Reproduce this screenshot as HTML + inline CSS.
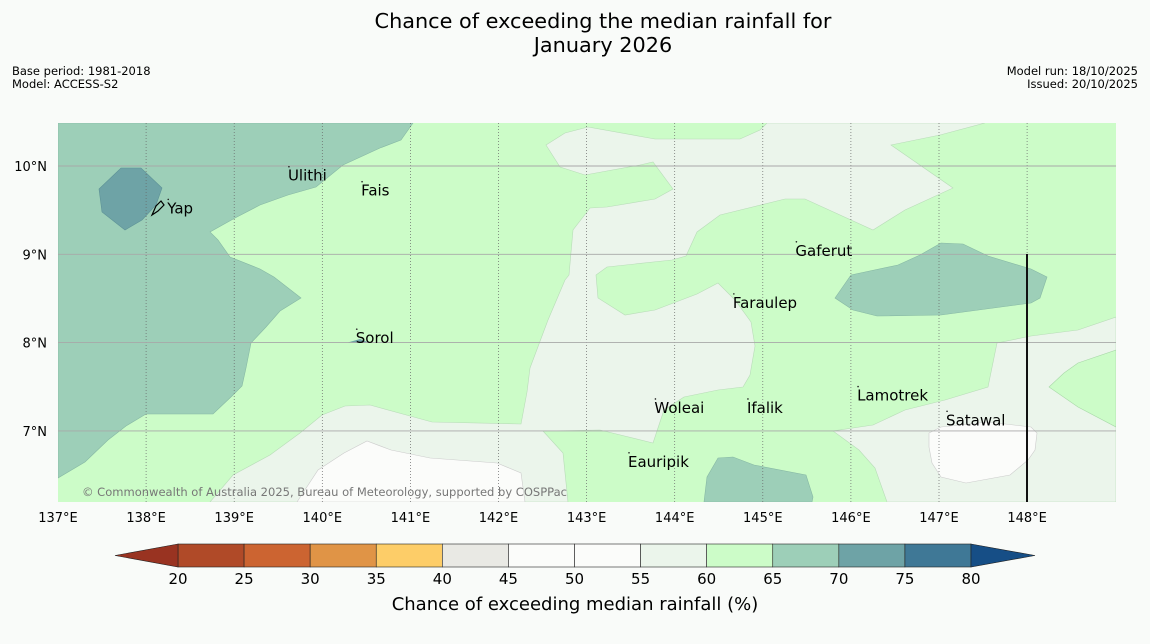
<!DOCTYPE html>
<html><head><meta charset="utf-8"><style>
html,body{margin:0;padding:0;background:#f9fbf9;}
svg{display:block;font-family:"DejaVu Sans","Liberation Sans",sans-serif;}
</style></head><body>
<svg id="c" width="1150" height="644" viewBox="0 0 1150 644" xmlns="http://www.w3.org/2000/svg">
<rect width="1150" height="644" fill="#f9fbf9"/>
<text x="603" y="28" font-size="20.8" text-anchor="middle" fill="#000">Chance of exceeding the median rainfall for</text>
<text x="603" y="52" font-size="20.8" text-anchor="middle" fill="#000">January 2026</text>
<text x="12" y="75" font-size="11.5">Base period: 1981-2018</text>
<text x="12" y="88" font-size="11.5">Model: ACCESS-S2</text>
<text x="1138" y="75" font-size="11.5" text-anchor="end">Model run: 18/10/2025</text>
<text x="1138" y="88" font-size="11.5" text-anchor="end">Issued: 20/10/2025</text>
<defs><clipPath id="mapclip"><rect x="58" y="123" width="1058" height="379"/></clipPath></defs>
<g id="map" clip-path="url(#mapclip)">
<rect x="58" y="123" width="1058" height="379" fill="#ccfcc8" stroke="none"/>
<polygon fill="#ebf5eb" stroke="#b8dcb8" stroke-width="0.6" points="546,145 565,133 588,127 655,139 740,139 760,130 767,123 985,123 940,135 891,145 953,188 905,210 873,230 805,199 785,199 720,215 697,232 686,256 672,260 607,267 596,275 598,298 625,315 655,310 697,294 718,283 735,300 751,322 755,346 750,375 743,387 718,390 684,397 664,410 653,443 600,430 543,431 563,453 568,502 210,502 233,475 270,455 300,433 322,415 345,406 370,405 432,422 521,424 527,392 530,368 548,320 565,280 569,275 573,230 590,208 607,207 655,199 673,189 653,162 640,165 585,175 560,167"/>
<polygon fill="#fbfcfa" stroke="#ccc" stroke-width="0.6" points="297,502 318,470 344,453 367,441 391,450 430,458 497,463 521,473 525,502"/>
<polygon fill="#ebf5eb" stroke="#b8dcb8" stroke-width="0.6" points="1116,317 1078,330 1031,336 997,343 988,387 945,400 905,410 873,425 833,431 859,450 875,468 887,502 1116,502"/>
<polygon fill="#ccfcc8" stroke="#a8d8a8" stroke-width="0.6" points="1116,350 1078,363 1064,373 1049,387 1078,407 1116,427"/>
<polygon fill="#fbfcfa" stroke="#ccc" stroke-width="0.6" points="929,433 941,427 988,422 1031,427 1037,433 1035,450 1028,460 1010,475 966,483 941,477 932,463 929,447"/>
<polygon fill="#9dcfb8" stroke="#86b8a4" stroke-width="0.6" points="58,123 413,123 401,140 380,148 343,165 316,187 288,195 260,205 235,218 210,232 218,240 230,257 260,269 274,277 301,298 280,311 266,327 251,343 246,368 242,386 232,396 213,414 146,414 126,426 108,440 85,462 58,478"/>
<polygon fill="#6ea3a6" stroke="#5d9296" stroke-width="0.6" points="121,168 141,168 162,188 156,205 142,220 125,230 102,212 99,189"/>
<polygon fill="#9dcfb8" stroke="#86b8a4" stroke-width="0.6" points="835,298 851,275 898,265 920,255 941,243 963,244 988,256 1031,269 1047,277 1040,298 1031,303 941,315 877,316 853,310"/>
<polygon fill="#9dcfb8" stroke="#86b8a4" stroke-width="0.6" points="704,502 707,477 718,458 733,457 754,465 806,475 813,497 812,502"/>
<polygon fill="#6ea3a6" points="346,343 360,339 370,343"/>
<g id="grid"></g>
<line x1="1027" y1="254" x2="1027" y2="502" stroke="#111" stroke-width="2"/>
<path d="M152,215 L156,206 L161,201 L164,205 L158,211 Z" fill="none" stroke="#000" stroke-width="1.2"/>
<g id="places"></g>
<text x="82" y="496" font-size="11.5" fill="#777" textLength="485" lengthAdjust="spacingAndGlyphs">© Commonwealth of Australia 2025, Bureau of Meteorology, supported by COSPPac</text>
</g>
<g id="axes"></g>
<g id="cbar"></g>
<text x="575" y="610" font-size="18" text-anchor="middle">Chance of exceeding median rainfall (%)</text>
</svg>
<script>
const lonTicks = [137,138,139,140,141,142,143,144,145,146,147,148];
const latTicks = [10,9,8,7];
const placeNames = ["Ulithi","Fais","Yap","Gaferut","Faraulep","Sorol","Lamotrek","Woleai","Ifalik","Satawal","Eauripik"];
const placeLons = [139.61,140.44,138.24,145.37,144.66,140.38,146.07,143.77,144.82,147.08,143.47];
const placeLats = [9.89,9.72,9.52,9.04,8.45,8.05,7.40,7.26,7.26,7.12,6.65];
const cbarLevels = [20,25,30,35,40,45,50,55,60,65,70,75,80];
const cbarColors = ["#b04a28","#cc6431","#e09446","#fdcd68","#e9e9e4","#fbfcfa","#fbfcfa","#ebf5eb","#ccfcc8","#9dcfb8","#6ea3a6","#3f7896"];
const cbarUnder = "#993321", cbarOver = "#164e86";

const NS="http://www.w3.org/2000/svg";
function xLon(l){return 58+(l-137)*88.1;}
function yLat(l){return 166+(10-l)*88.3;}
function xC(v){return 178+(v-20)*(971-178)/60;}
function mk(tag,attrs,parent){const e=document.createElementNS(NS,tag);for(const k in attrs)e.setAttribute(k,attrs[k]);parent.appendChild(e);return e;}

const grid=document.getElementById('grid');
lonTicks.forEach(l=>{
  if(l===137)return;
  const ln=mk('line',{x1:xLon(l),x2:xLon(l),y1:123,y2:502,stroke:'#666','stroke-width':0.7,'stroke-dasharray':'1,2'},grid);
  
  
});
latTicks.forEach(l=>{
  const ln=mk('line',{x1:58,x2:1116,y1:yLat(l),y2:yLat(l),stroke:'#a8a8a8','stroke-width':0.9},grid);
  
  
});
const axes=document.getElementById('axes');
lonTicks.forEach(l=>{
  const t=mk('text',{x:xLon(l),y:522,'font-size':13,'text-anchor':'middle'},axes);
  t.textContent=l+'°E';
  
  
});
latTicks.forEach(l=>{
  const t=mk('text',{x:47,y:yLat(l)+5,'font-size':13,'text-anchor':'end'},axes);
  t.textContent=l+'°N';
  
  
});
const places=document.getElementById('places');
placeNames.forEach((n,i)=>{
  const x=xLon(placeLons[i]), y=yLat(placeLats[i]);
  const d=mk('circle',{cx:x+1,cy:y-9,r:0.8,fill:'#222'},places);
  
  
  const t=mk('text',{x:x,y:y+5,'font-size':15,fill:'#000'},places);
  t.textContent=n;
  
  
});
const cb=document.getElementById('cbar');
for(let i=0;i<cbarColors.length;i++){
  const r=mk('rect',{x:xC(cbarLevels[i]),y:544,width:xC(cbarLevels[i+1])-xC(cbarLevels[i]),height:23,fill:cbarColors[i],stroke:'#222','stroke-width':0.6},cb);
  
  
}
const tu=mk('polygon',{points:`${xC(20)},544 115,555.5 ${xC(20)},567`,fill:cbarUnder,stroke:'#222','stroke-width':0.6},cb);


const to=mk('polygon',{points:`${xC(80)},544 1035,555.5 ${xC(80)},567`,fill:cbarOver,stroke:'#222','stroke-width':0.6},cb);


cbarLevels.forEach(v=>{
  const t=mk('text',{x:xC(v),y:584,'font-size':15,'text-anchor':'middle'},cb);
  t.textContent=v;
  
  
});
</script>
</body></html>
